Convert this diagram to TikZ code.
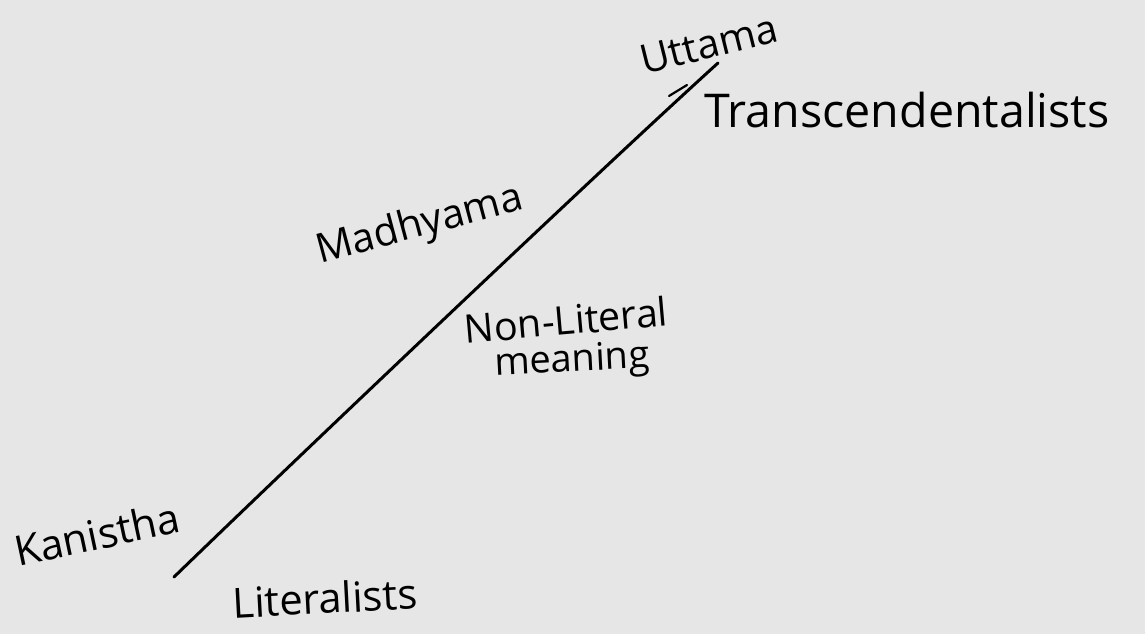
\documentclass[tikz,border=0pt]{standalone}
\usepackage{fontspec}
\setmainfont{Open Sans}
\usepackage{graphicx}
\definecolor{bg}{HTML}{E6E6E6}
\tikzset{
  hand/.style={inner sep=0pt, outer sep=0pt, text=black},
  stroke/.style={line width=3pt, line cap=round, line join=round, black}
}
\begin{document}
\begin{tikzpicture}[x=1pt,y=-1pt]
\fill[bg] (0,0) rectangle (1145,634);
\useasboundingbox (0,0) rectangle (1145,634);
% main line
\coordinate (low) at (174,577);
\coordinate (high) at (718,63);
\draw[stroke] (low) .. controls (300,455) and (600,170) .. (high);
% small tick near top
\coordinate (tka) at (669,96);
\coordinate (tkb) at (687,85);
\draw[stroke, line width=2.2pt] (tka) -- (tkb);
% labels
\node[hand, rotate=14] (uttama) at (709,44) {\resizebox{140pt}{!}{Uttama}};
\node[hand] (trans) at (907,110) {\resizebox{405pt}{!}{Transcendentalists}};
\node[hand, rotate=15] (madhyama) at (420,226) {\resizebox{212pt}{!}{Madhyama}};
\node[hand, rotate=5] (nonlit) at (566,320) {\resizebox{204pt}{!}{Non-Literal}};
\node[hand, rotate=3] (meaning) at (572,362) {\resizebox{155pt}{!}{meaning}};
\node[hand, rotate=12] (kanistha) at (97,534) {\resizebox{168pt}{!}{Kanistha}};
\node[hand, rotate=3] (literalists) at (325,598) {\resizebox{185pt}{!}{Literalists}};
\end{tikzpicture}
\end{document}
